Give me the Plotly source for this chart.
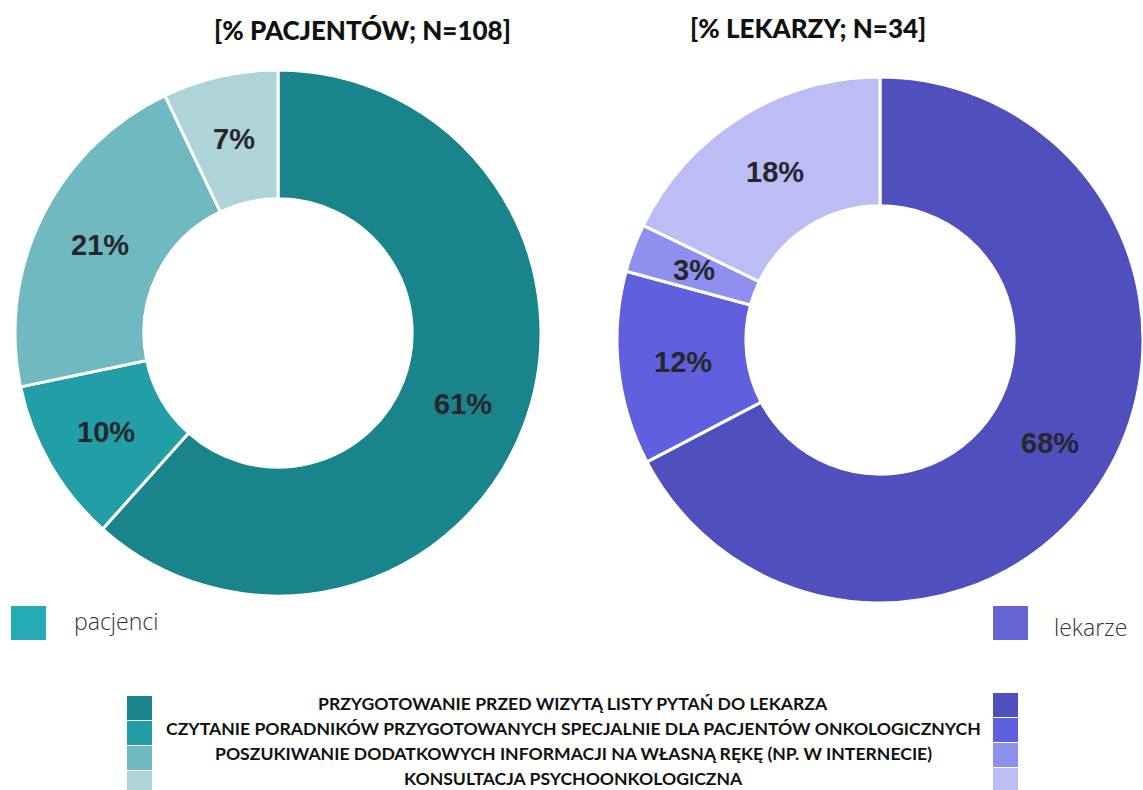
import math
import plotly.graph_objects as go

# dane
kategorie = [
    "PRZYGOTOWANIE PRZED WIZYTĄ LISTY PYTAŃ DO LEKARZA",
    "CZYTANIE PORADNIKÓW PRZYGOTOWANYCH SPECJALNIE DLA PACJENTÓW ONKOLOGICZNYCH",
    "POSZUKIWANIE DODATKOWYCH INFORMACJI NA WŁASNĄ RĘKĘ (NP. W INTERNECIE)",
    "KONSULTACJA PSYCHOONKOLOGICZNA",
]
pacjenci = [61, 10, 21, 7]
lekarze = [68, 12, 3, 18]

kolory_pacjenci = ["#1a848b", "#229ea7", "#70b9c1", "#aed3d8"]
kolory_lekarze = ["#4f4fbd", "#6060de", "#8f8fef", "#bdbdf6"]

W, H = 1143, 790
HOLE = 0.51

# domeny pierścieni w pikselach (x0, x1, y0, y1 od góry)
dom_pac = (15, 541, 70, 596)
dom_lek = (617, 1143, 77, 603)


def dom_paper(d):
    x0, x1, y0, y1 = d
    return dict(x=[x0 / W, x1 / W], y=[1 - y1 / H, 1 - y0 / H])


def etykiety(wartosci, d):
    # pozycje etykiet liczone z danych: środek kąta wycinka, środek pierścienia
    x0, x1, y0, y1 = d
    cx, cy = (x0 + x1) / 2, (y0 + y1) / 2
    r = min(x1 - x0, y1 - y0) / 2
    rl = r * (1 + HOLE) / 2
    suma = sum(wartosci)
    out = []
    acc = 0
    for v in wartosci:
        kat = (acc + v / 2) / suma * 2 * math.pi
        acc += v
        px = cx + rl * math.sin(kat)
        py = cy - rl * math.cos(kat)
        out.append(dict(
            x=px / W, y=1 - py / H,
            text=f"{v}%",
            font=dict(family="Liberation Sans", size=29, color="#26262c", weight="bold"),
        ))
    return out


fig = go.Figure()

for nazwa, wart, kol, d in [
    ("pacjenci", pacjenci, kolory_pacjenci, dom_pac),
    ("lekarze", lekarze, kolory_lekarze, dom_lek),
]:
    fig.add_trace(go.Pie(
        labels=kategorie,
        values=wart,
        hole=HOLE,
        sort=False,
        direction="clockwise",
        rotation=0,
        marker=dict(colors=kol, line=dict(color="white", width=3)),
        textinfo="none",
        domain=dom_paper(d),
        name=nazwa,
        showlegend=False,
    ))

annotations = etykiety(pacjenci, dom_pac) + etykiety(lekarze, dom_lek)

# tytuły
tytul_font = dict(family="Lato", size=26, color="#111111", weight=900)
annotations += [
    dict(x=362 / W, y=1 - 30 / H, text="[% PACJENTÓW; N=108]", font=tytul_font),
    dict(x=808 / W, y=1 - 28 / H, text="[% LEKARZY; N=34]", font=tytul_font),
]

# mała legenda
maly_font = dict(family="Open Sans", size=23, color="#333333", weight=300)
annotations += [
    dict(x=72 / W, y=1 - 621 / H, text="pacjenci", xanchor="left", font=maly_font),
    dict(x=1052 / W, y=1 - 627 / H, text="lekarze", xanchor="left", font=maly_font),
]

shapes = [
    dict(type="rect", x0=11 / W, x1=46 / W, y0=1 - 640 / H, y1=1 - 606 / H,
         fillcolor="#24abb5", line_width=0),
    dict(type="rect", x0=993 / W, x1=1028 / W, y0=1 - 640 / H, y1=1 - 606 / H,
         fillcolor="#6464d2", line_width=0),
]

# dolna legenda
leg_font = dict(family="Lato", size=17.6, color="#111111", weight="bold")
for i, (kat, kp, kl) in enumerate(zip(kategorie, kolory_pacjenci, kolory_lekarze)):
    top_l = 696 + 25 * i
    top_r = 693 + 25 * i
    shapes.append(dict(type="rect", x0=127 / W, x1=152 / W,
                       y0=1 - (top_l + 24) / H, y1=1 - top_l / H,
                       fillcolor=kp, line_width=0))
    shapes.append(dict(type="rect", x0=993 / W, x1=1018 / W,
                       y0=1 - (top_r + 24) / H, y1=1 - top_r / H,
                       fillcolor=kl, line_width=0))
    annotations.append(dict(x=573 / W, y=1 - (703.5 + 25 * i) / H, text=kat, font=leg_font))

for a in annotations:
    a.setdefault("xref", "paper")
    a.setdefault("yref", "paper")
    a.setdefault("showarrow", False)
    a.setdefault("xanchor", "center")
    a.setdefault("yanchor", "middle")

fig.update_layout(
    width=W, height=H,
    margin=dict(l=0, r=0, t=0, b=0),
    paper_bgcolor="white",
    plot_bgcolor="white",
    annotations=annotations,
    shapes=shapes,
    showlegend=False,
)

# zerowy margines strony, żeby wykres zaczynał się w rogu okna
fig.write_html(
    "out.html",
    config={"displayModeBar": False},
    post_script="document.body.style.margin='0';",
)
